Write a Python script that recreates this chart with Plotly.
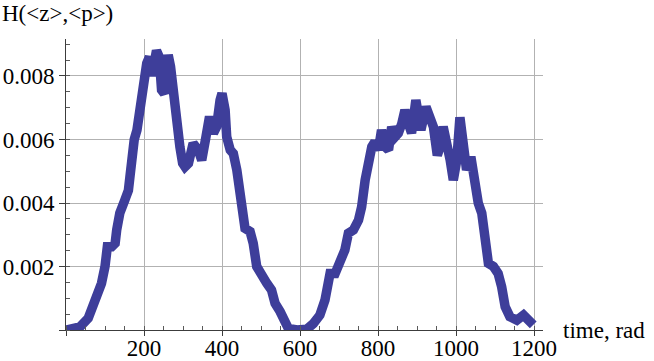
import plotly.graph_objects as go

# time (rad) and H(<z>,<p>)
t = [0, 36, 57, 70, 79, 91, 100, 106, 117, 126, 130, 138, 151, 160, 164, 168, 175, 182,
     190, 198, 207, 214, 220, 226, 232, 239, 245, 252, 258, 262, 268, 273, 279, 286, 292,
     299, 305, 314, 326, 339, 348, 359, 368, 378, 386, 395, 400, 408, 412, 421, 429, 438,
     446, 452, 459, 472, 480, 489, 502, 515, 527, 536, 549, 562, 570, 592, 617, 634, 651,
     664, 668, 677, 690, 703, 715, 724, 737, 750, 758, 767, 775, 784, 792, 801, 809, 818,
     827, 835, 844, 852, 861, 869, 878, 886, 897, 910, 923, 933, 942, 952, 959, 967, 976,
     985, 993, 1002, 1010, 1019, 1027, 1038, 1046, 1057, 1066, 1074, 1083, 1096, 1108,
     1117, 1126, 1138, 1156, 1173, 1185, 1198]
H = [0, 0.0001, 0.00037, 0.00073, 0.00116, 0.00147, 0.002, 0.00262, 0.00262, 0.00273,
     0.00315, 0.00368, 0.0041, 0.0044, 0.00483, 0.00535, 0.006, 0.0063, 0.00703, 0.00787,
     0.0084, 0.0086, 0.008, 0.0084, 0.0088, 0.0086, 0.00756, 0.00745, 0.0083, 0.00866,
     0.0083, 0.00766, 0.00703, 0.0064, 0.00577, 0.00525, 0.00514, 0.00525, 0.00588,
     0.00567, 0.00535, 0.00609, 0.00672, 0.0062, 0.0064, 0.00724, 0.00745, 0.00693,
     0.00609, 0.00567, 0.00556, 0.00504, 0.0042, 0.00357, 0.0032, 0.0031, 0.00273, 0.002,
     0.00168, 0.00147, 0.00126, 0.00084, 0.00058, 0.00031, 0.00005, 0, 0.00002, 0.0002,
     0.00047, 0.00094, 0.00116, 0.00178, 0.00178, 0.0022, 0.00252, 0.00305, 0.00315,
     0.00346, 0.00388, 0.00472, 0.00525, 0.00577, 0.00593, 0.00567, 0.0063, 0.00577,
     0.00567, 0.0064, 0.00609, 0.0062, 0.0065, 0.00693, 0.0065, 0.0062, 0.00724, 0.0063,
     0.00703, 0.0066, 0.0064, 0.0055, 0.00577, 0.0064, 0.006, 0.00535, 0.00472, 0.00535,
     0.0067, 0.00546, 0.00504, 0.00546, 0.00472, 0.004, 0.00368, 0.00294, 0.0021, 0.002,
     0.00178, 0.00136, 0.00073, 0.00042, 0.00031, 0.00047, 0.00026, 0.00016]

x_ticks = [0, 200, 400, 600, 800, 1000, 1200]
x_labels = ["", "200", "400", "600", "800", "1000", "1200"]
y_ticks = [0, 0.002, 0.004, 0.006, 0.008]
y_labels = ["", "0.002", "0.004", "0.006", "0.008"]

FONT = "Liberation Serif"
grid = "rgb(178,178,178)"

fig = go.Figure()
fig.add_trace(go.Scatter(x=t, y=H, mode="lines",
                         line=dict(color="rgb(62,62,154)", width=9.5)))

fig.update_layout(
    width=654, height=361,
    margin=dict(l=66, r=111, t=39, b=31),
    plot_bgcolor="white", paper_bgcolor="white",
    showlegend=False,
    font=dict(family=FONT, size=23, color="black"),
)
fig.update_xaxes(range=[0, 1223], tickmode="array", tickvals=x_ticks, ticktext=x_labels,
                 automargin=False, ticklabelstandoff=-8,
                 showgrid=True, gridcolor=grid, gridwidth=1, zeroline=False,
                 showline=True, linecolor="rgb(60,60,60)", linewidth=1,
                 ticks="outside", ticklen=5, tickcolor="rgb(60,60,60)",
                 minor=dict(tickmode="linear", tick0=0, dtick=50, ticks="inside",
                            ticklen=4, tickcolor="rgb(90,90,90)", showgrid=False))
fig.update_yaxes(range=[0, 0.009165], tickmode="array", tickvals=y_ticks, ticktext=y_labels,
                 automargin=False,
                 showgrid=True, gridcolor=grid, gridwidth=1, zeroline=False,
                 showline=True, linecolor="rgb(60,60,60)", linewidth=1,
                 ticks="outside", ticklen=6, tickcolor="rgb(60,60,60)",
                 minor=dict(tickmode="linear", tick0=0, dtick=0.0005, ticks="inside",
                            ticklen=4, tickcolor="rgb(90,90,90)", showgrid=False))

# axis labels placed like the reference (top-left and right end of x axis)
fig.add_annotation(text="H(&lt;z&gt;,&lt;p&gt;)", xref="paper", yref="paper",
                   x=-66 / 477, y=(330 - 13) / 291, xanchor="left", yanchor="middle",
                   showarrow=False, font=dict(family=FONT, size=23))
fig.add_annotation(text="time, rad", xref="paper", yref="paper",
                   x=(561 - 66) / 477, y=0, xanchor="left", yanchor="middle",
                   showarrow=False, font=dict(family=FONT, size=23))

# browser default body margin would shift the figure by 8px
fig.write_html("out.html", config={"displayModeBar": False},
               post_script="document.body.style.margin='0px';")
